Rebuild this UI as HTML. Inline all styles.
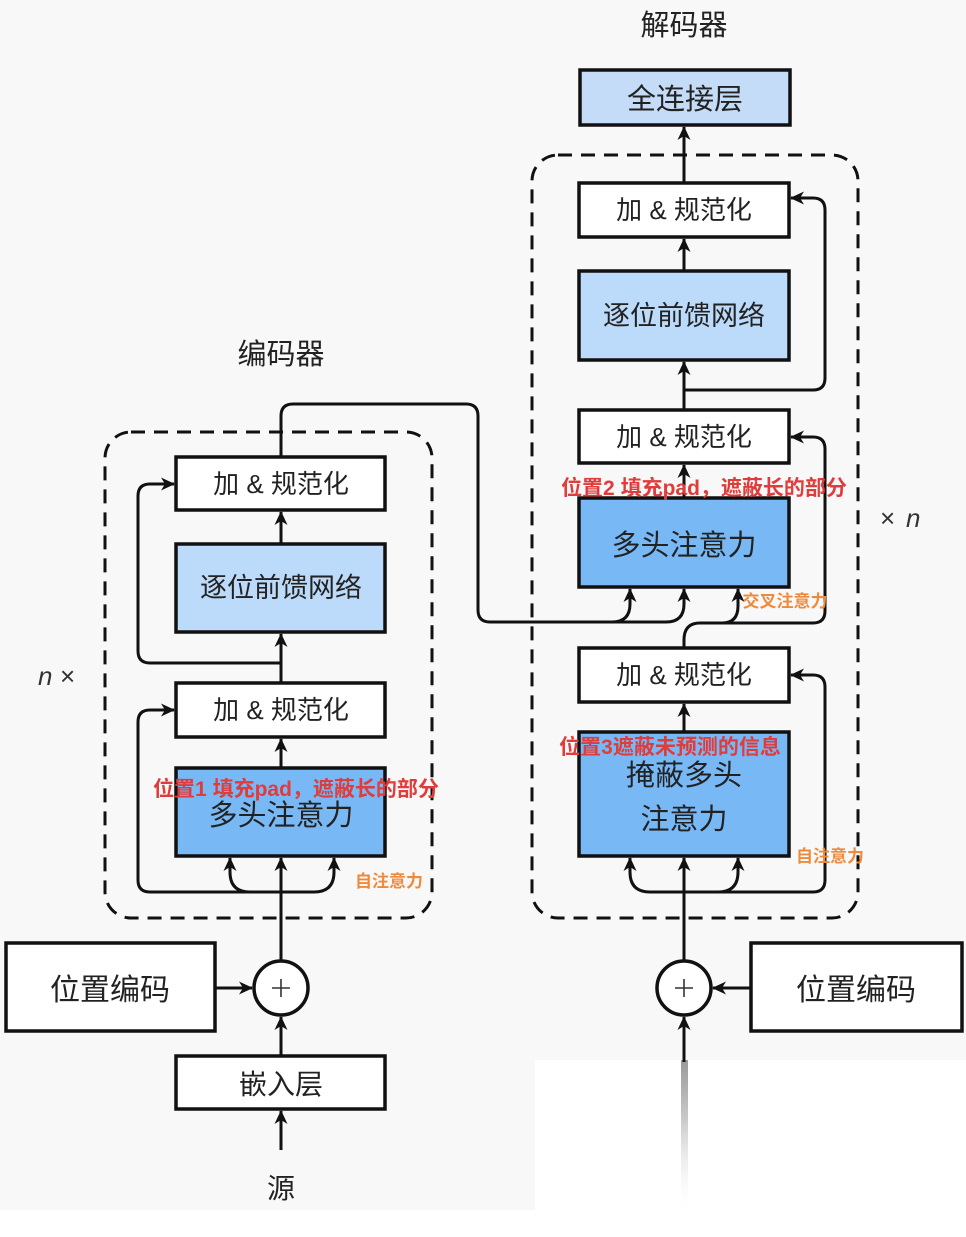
<!DOCTYPE html>
<html><head><meta charset="utf-8">
<style>
html,body{margin:0;padding:0;background:#f8f8f8;}
svg{display:block;}
text{font-family:"Liberation Sans","Noto Sans CJK SC",sans-serif;}
</style></head>
<body>
<svg width="966" height="1237" viewBox="0 0 966 1237" xmlns="http://www.w3.org/2000/svg">
<defs>
<marker id="a" markerWidth="16" markerHeight="14" refX="13" refY="7" orient="auto" markerUnits="userSpaceOnUse">
<path d="M0,0.5 L14,7 L0,13.5 L4,7 Z" fill="#111"/>
</marker>
<linearGradient id="fade" gradientUnits="userSpaceOnUse" x1="0" y1="1060" x2="0" y2="1215">
<stop offset="0" stop-color="#999"/><stop offset="0.4" stop-color="#ccc"/><stop offset="1" stop-color="#fff" stop-opacity="0"/>
</linearGradient>
</defs>
<rect x="0" y="0" width="966" height="1237" fill="#f8f8f8"/>
<rect x="0" y="1210" width="966" height="27" fill="#fff"/>
<rect x="535" y="1060" width="431" height="177" fill="#fff"/>
<rect x="681" y="1060" width="7" height="150" fill="url(#fade)"/>

<g fill="none" stroke="#111" stroke-width="3">
<rect x="105" y="432" width="327" height="486" rx="26" stroke-dasharray="14,9"/>
<rect x="532" y="155" width="326" height="763" rx="26" stroke-dasharray="14,9"/>
</g>

<g stroke="#111" stroke-width="3.5">
<rect x="176" y="457" width="209" height="53" fill="#fff"/>
<rect x="176" y="544" width="209" height="88" fill="#bcdaf9"/>
<rect x="176" y="683" width="209" height="54" fill="#fff"/>
<rect x="176" y="768" width="209" height="88" fill="#78b8f5"/>
<rect x="6" y="943" width="209" height="88" fill="#fff"/>
<rect x="176" y="1056" width="209" height="53" fill="#fff"/>
<rect x="751" y="943" width="211" height="88" fill="#fff"/>
<rect x="580" y="70" width="210" height="55" fill="#c4dcf7"/>
<rect x="579" y="183" width="210" height="54" fill="#fff"/>
<rect x="579" y="271" width="210" height="89" fill="#bcdaf9"/>
<rect x="579" y="410" width="210" height="53" fill="#fff"/>
<rect x="579" y="498" width="210" height="89" fill="#78b8f5"/>
<rect x="579" y="648" width="210" height="54" fill="#fff"/>
<rect x="579" y="732" width="210" height="124" fill="#78b8f5"/>
<ellipse cx="281" cy="988" rx="27" ry="27" fill="#fff"/>
<ellipse cx="684" cy="988" rx="27" ry="27" fill="#fff"/>
</g>

<g fill="none" stroke="#111" stroke-width="3" marker-end="url(#a)">
<line x1="281" y1="1150" x2="281" y2="1111"/>
<line x1="281" y1="1056" x2="281" y2="1017"/>
<line x1="216" y1="988" x2="252" y2="988"/>
<line x1="281" y1="961" x2="281" y2="858"/>
<path d="M281,892 H250 Q230,892 230,872 V858"/>
<path d="M281,892 H314 Q334,892 334,872 V858"/>
<path d="M281,892 H150 Q138,892 138,880 V722 Q138,710 150,710 H174"/>
<line x1="281" y1="768" x2="281" y2="739"/>
<line x1="281" y1="683" x2="281" y2="634"/>
<path d="M281,663 H150 Q138,663 138,651 V496 Q138,484 150,484 H174"/>
<line x1="281" y1="544" x2="281" y2="512"/>
<path d="M281,457 V416 Q281,404 293,404 H466 Q478,404 478,416 V610 Q478,622 490,622 H612 Q630,622 630,604 V589"/>
<path d="M612,622 H666 Q684,622 684,604 V589"/>
<line x1="684" y1="1062" x2="684" y2="1017"/>
<line x1="750" y1="988" x2="713" y2="988"/>
<line x1="684" y1="961" x2="684" y2="858"/>
<path d="M684,892 H650 Q630,892 630,872 V858"/>
<path d="M684,892 H718 Q738,892 738,872 V858"/>
<path d="M684,892 H813 Q825,892 825,880 V687 Q825,675 813,675 H791"/>
<line x1="684" y1="732" x2="684" y2="704"/>
<path d="M684,648 V640 Q684,623 700,623 H722 Q738,623 738,606 V589"/>
<path d="M722,623 H813 Q825,623 825,611 V449 Q825,437 813,437 H791"/>
<line x1="684" y1="498" x2="684" y2="465"/>
<line x1="684" y1="410" x2="684" y2="362"/>
<path d="M684,390 H813 Q825,390 825,378 V210 Q825,198 813,198 H791"/>
<line x1="684" y1="271" x2="684" y2="239"/>
<line x1="684" y1="183" x2="684" y2="127"/>
</g>

<g stroke="#333" stroke-width="1.6">
<line x1="272" y1="988" x2="290" y2="988"/><line x1="281" y1="979" x2="281" y2="997"/>
<line x1="675" y1="988" x2="693" y2="988"/><line x1="684" y1="979" x2="684" y2="997"/>
</g>

<g fill="#222" font-size="27" text-anchor="middle">
<text x="281" y="364" font-size="29">编码器</text>
<text x="684" y="35" font-size="29">解码器</text>
<text x="281" y="493" font-size="26">加 &amp; 规范化</text>
<text x="281" y="597">逐位前馈网络</text>
<text x="281" y="719" font-size="26">加 &amp; 规范化</text>
<text x="281" y="825" font-size="29">多头注意力</text>
<text x="110" y="1000" font-size="30">位置编码</text>
<text x="281" y="1094" font-size="28">嵌入层</text>
<text x="281" y="1198" font-size="28">源</text>
<text x="856" y="1000" font-size="30">位置编码</text>
<text x="685" y="109" font-size="29">全连接层</text>
<text x="684" y="219" font-size="26">加 &amp; 规范化</text>
<text x="684" y="325">逐位前馈网络</text>
<text x="684" y="446" font-size="26">加 &amp; 规范化</text>
<text x="684" y="555" font-size="29">多头注意力</text>
<text x="684" y="684" font-size="26">加 &amp; 规范化</text>
<text x="684" y="785" font-size="29">掩蔽多头</text>
<text x="684" y="829" font-size="29">注意力</text>
</g>
<g font-family="Liberation Serif,serif" font-style="italic" font-size="26" fill="#333">
<text x="38" y="685">n</text>
<text x="906" y="527">n</text>
</g>
<g font-size="26" fill="#333">
<text x="60" y="685">×</text>
<text x="880" y="527">×</text>
</g>

<g fill="#e03c3c" font-weight="bold" font-size="21" text-anchor="middle">
<text x="296" y="796">位置1 填充pad，遮蔽长的部分</text>
<text x="704" y="495">位置2 填充pad，遮蔽长的部分</text>
<text x="670" y="754">位置3遮蔽未预测的信息</text>
</g>
<g fill="#ee8a3c" font-weight="bold" font-size="17" text-anchor="middle">
<text x="389" y="887">自注意力</text>
<text x="785" y="607">交叉注意力</text>
<text x="830" y="862">自注意力</text>
</g>
</svg>
</body></html>
